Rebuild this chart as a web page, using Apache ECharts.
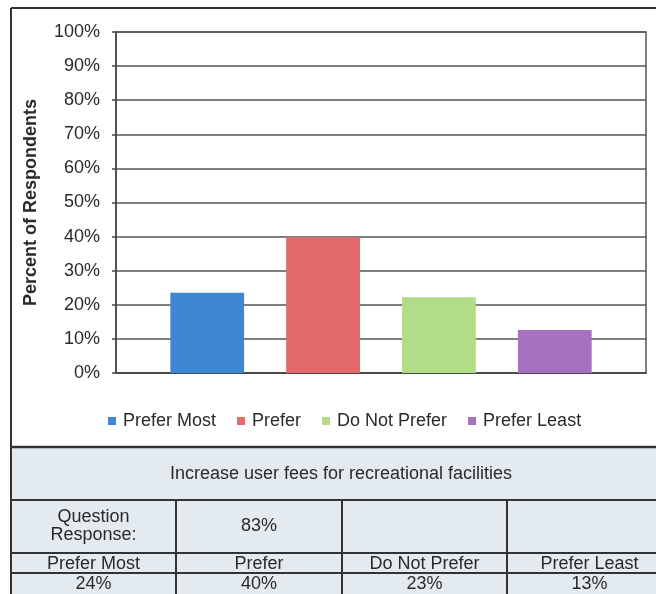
<!DOCTYPE html>
<html>
<head>
<meta charset="utf-8">
<script src="https://cdn.jsdelivr.net/npm/echarts@6/dist/echarts.min.js"></script>
<style>
html,body{margin:0;padding:0;background:#fff;}
#chart{width:656px;height:594px;}
</style>
</head>
<body>
<div id="chart"></div>
<script>
// ---- data ----
const categories = ['Prefer Most', 'Prefer', 'Do Not Prefer', 'Prefer Least'];
const values = [23.5, 39.8, 22.2, 12.6];
const tableValues = ['24%', '40%', '23%', '13%'];
const questionText = 'Increase user fees for recreational facilities';
const responseLabel = 'Question\nResponse:';
const responseValue = '83%';
const yAxisTitle = 'Percent of Respondents';
const colors = ['#3f86d4', '#e3696b', '#b3dc88', '#a771c0'];

// ---- layout ----
const FONT = '"Liberation Sans", Arial, sans-serif';
const TXT = '#2a2a2a';
const LINE = '#333';
const colX = [11, 176, 342, 507, 672];
const rowY = [447, 500, 553, 573, 594];

const chart = echarts.init(document.getElementById('chart'));

const graphics = [];
// table background
graphics.push({type:'rect', shape:{x:11, y:447, width:700, height:160}, style:{fill:'#e4ebf0'}, z:0});
// outer border
graphics.push({type:'line', shape:{x1:11, y1:8, x2:660, y2:8}, style:{stroke:LINE, lineWidth:2}});
graphics.push({type:'line', shape:{x1:11, y1:8, x2:11, y2:600}, style:{stroke:LINE, lineWidth:2}});
// horizontal table lines
rowY.slice(0, 4).forEach(function (y, i) {
  graphics.push({type:'line', shape:{x1:11, y1:y, x2:660, y2:y}, style:{stroke:LINE, lineWidth: i === 0 ? 2.5 : 2}});
});
// vertical table lines
colX.slice(1, 4).forEach(function (x) {
  graphics.push({type:'line', shape:{x1:x, y1:rowY[1], x2:x, y2:600}, style:{stroke:LINE, lineWidth:2}});
});
function cellText(text, cx, cy) {
  return {type:'text', x:cx, y:cy, style:{text:text, fontSize:18, fontFamily:FONT, fill:TXT, align:'center', verticalAlign:'middle', lineHeight:18}};
}
graphics.push(cellText(questionText, 341, (rowY[0] + rowY[1]) / 2 + 1));
graphics.push(cellText(responseLabel, (colX[0] + colX[1]) / 2, (rowY[1] + rowY[2]) / 2));
graphics.push(cellText(responseValue, (colX[1] + colX[2]) / 2, (rowY[1] + rowY[2]) / 2));
categories.forEach(function (c, i) {
  const cx = (colX[i] + colX[i + 1]) / 2;
  graphics.push(cellText(c, cx, (rowY[2] + rowY[3]) / 2 + 1));
  graphics.push(cellText(tableValues[i], cx, (rowY[3] + rowY[4]) / 2 + 1));
});

const series = categories.map(function (name, i) {
  return {
    name: name,
    type: 'bar',
    data: [values[i]],
    itemStyle: {color: colors[i]},
    barGap: '57%',
    barCategoryGap: '20.5%'
  };
});

chart.setOption({
  animation: false,
  backgroundColor: '#fff',
  color: colors,
  grid: {left:116, top:32, right:10, bottom:221, show:true, borderColor:'#555', borderWidth:1.5, backgroundColor:'transparent'},
  legend: {
    data: categories,
    left: 108, top: 412, padding: 0,
    itemWidth: 8, itemHeight: 8, itemGap: 21,
    icon: 'rect',
    textStyle: {fontSize:18, fontFamily:FONT, color:TXT, padding:[0, 0, 0, 2]}
  },
  xAxis: {
    type: 'category',
    data: [''],
    axisLine: {show:true, lineStyle:{color:'#444', width:1.5}},
    axisTick: {show:false},
    axisLabel: {show:false}
  },
  yAxis: {
    type: 'value',
    min: 0, max: 100, interval: 10,
    name: yAxisTitle,
    nameLocation: 'middle',
    nameRotate: 90,
    nameGap: 76,
    nameTextStyle: {fontSize:18, fontWeight:'bold', fontFamily:FONT, color:TXT},
    axisLine: {show:true, lineStyle:{color:'#444', width:1.5}},
    axisTick: {show:true, length:4, lineStyle:{color:'#444', width:1.5}},
    axisLabel: {formatter:'{value}%', fontSize:18, fontFamily:FONT, color:TXT, margin:16},
    splitLine: {show:true, lineStyle:{color:'#555', width:1.5}}
  },
  series: series,
  graphic: graphics
});
</script>
</body>
</html>
